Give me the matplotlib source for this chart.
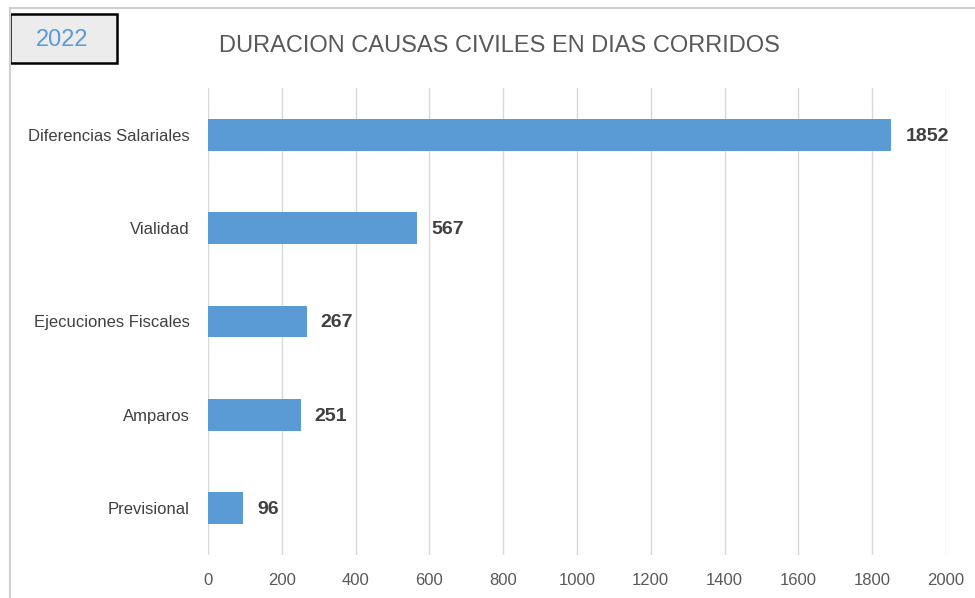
import matplotlib.pyplot as plt
from matplotlib.patches import Rectangle
from matplotlib.lines import Line2D

categories = ['Previsional', 'Amparos', 'Ejecuciones Fiscales', 'Vialidad', 'Diferencias Salariales']
dias = [96, 251, 267, 567, 1852]
xticks = [0, 200, 400, 600, 800, 1000, 1200, 1400, 1600, 1800, 2000]

plt.rcParams['font.family'] = ['Liberation Sans', 'DejaVu Sans']

fig = plt.figure(figsize=(9.75, 5.98), dpi=100)
ax = fig.add_axes([208 / 975, 1 - 555 / 598, 738 / 975, 467 / 598])

ax.barh(range(len(categories)), dias, height=0.34, color='#5b9bd5', zorder=3)
for i, v in enumerate(dias):
    ax.annotate(str(v), (v, i), xytext=(10, -1), textcoords='offset points',
                va='center', ha='left', fontsize=14,
                fontweight='bold', color='#404040')

ax.set_xlim(0, 2000)
ax.set_ylim(-0.5, len(categories) - 0.5)
ax.set_xticks(xticks)
ax.set_xticklabels([str(t) for t in xticks])
ax.set_yticks(range(len(categories)))
ax.set_yticklabels(categories)
ax.tick_params(axis='x', length=0, pad=13, labelsize=12, labelcolor='#595959')
ax.tick_params(axis='y', length=0, pad=13, labelsize=12, labelcolor='#404040')
ax.grid(axis='x', color='#d9d9d9', linewidth=1, zorder=0)
for s in ax.spines.values():
    s.set_visible(False)

# outer chart frame (top and left edges)
fig.add_artist(Line2D([10 / 975, 1], [1 - 8 / 598, 1 - 8 / 598], color='#d0d0d0', lw=1.5))
fig.add_artist(Line2D([10 / 975, 10 / 975], [0, 1 - 8 / 598], color='#d0d0d0', lw=1.5))

# year box
fig.add_artist(Rectangle((10 / 975, 1 - 63 / 598), 107 / 975, 49 / 598,
                         facecolor='#ececec', edgecolor='black', lw=1.8))
fig.text(62 / 975, 1 - 40 / 598, '2022', ha='center', va='center',
         fontsize=17, color='#5b9bd5')

fig.text(499 / 975, 1 - 46 / 598, 'DURACION CAUSAS CIVILES EN DIAS CORRIDOS',
         ha='center', va='center', fontsize=17, color='#595959')

fig.savefig('out.png', dpi=100)
